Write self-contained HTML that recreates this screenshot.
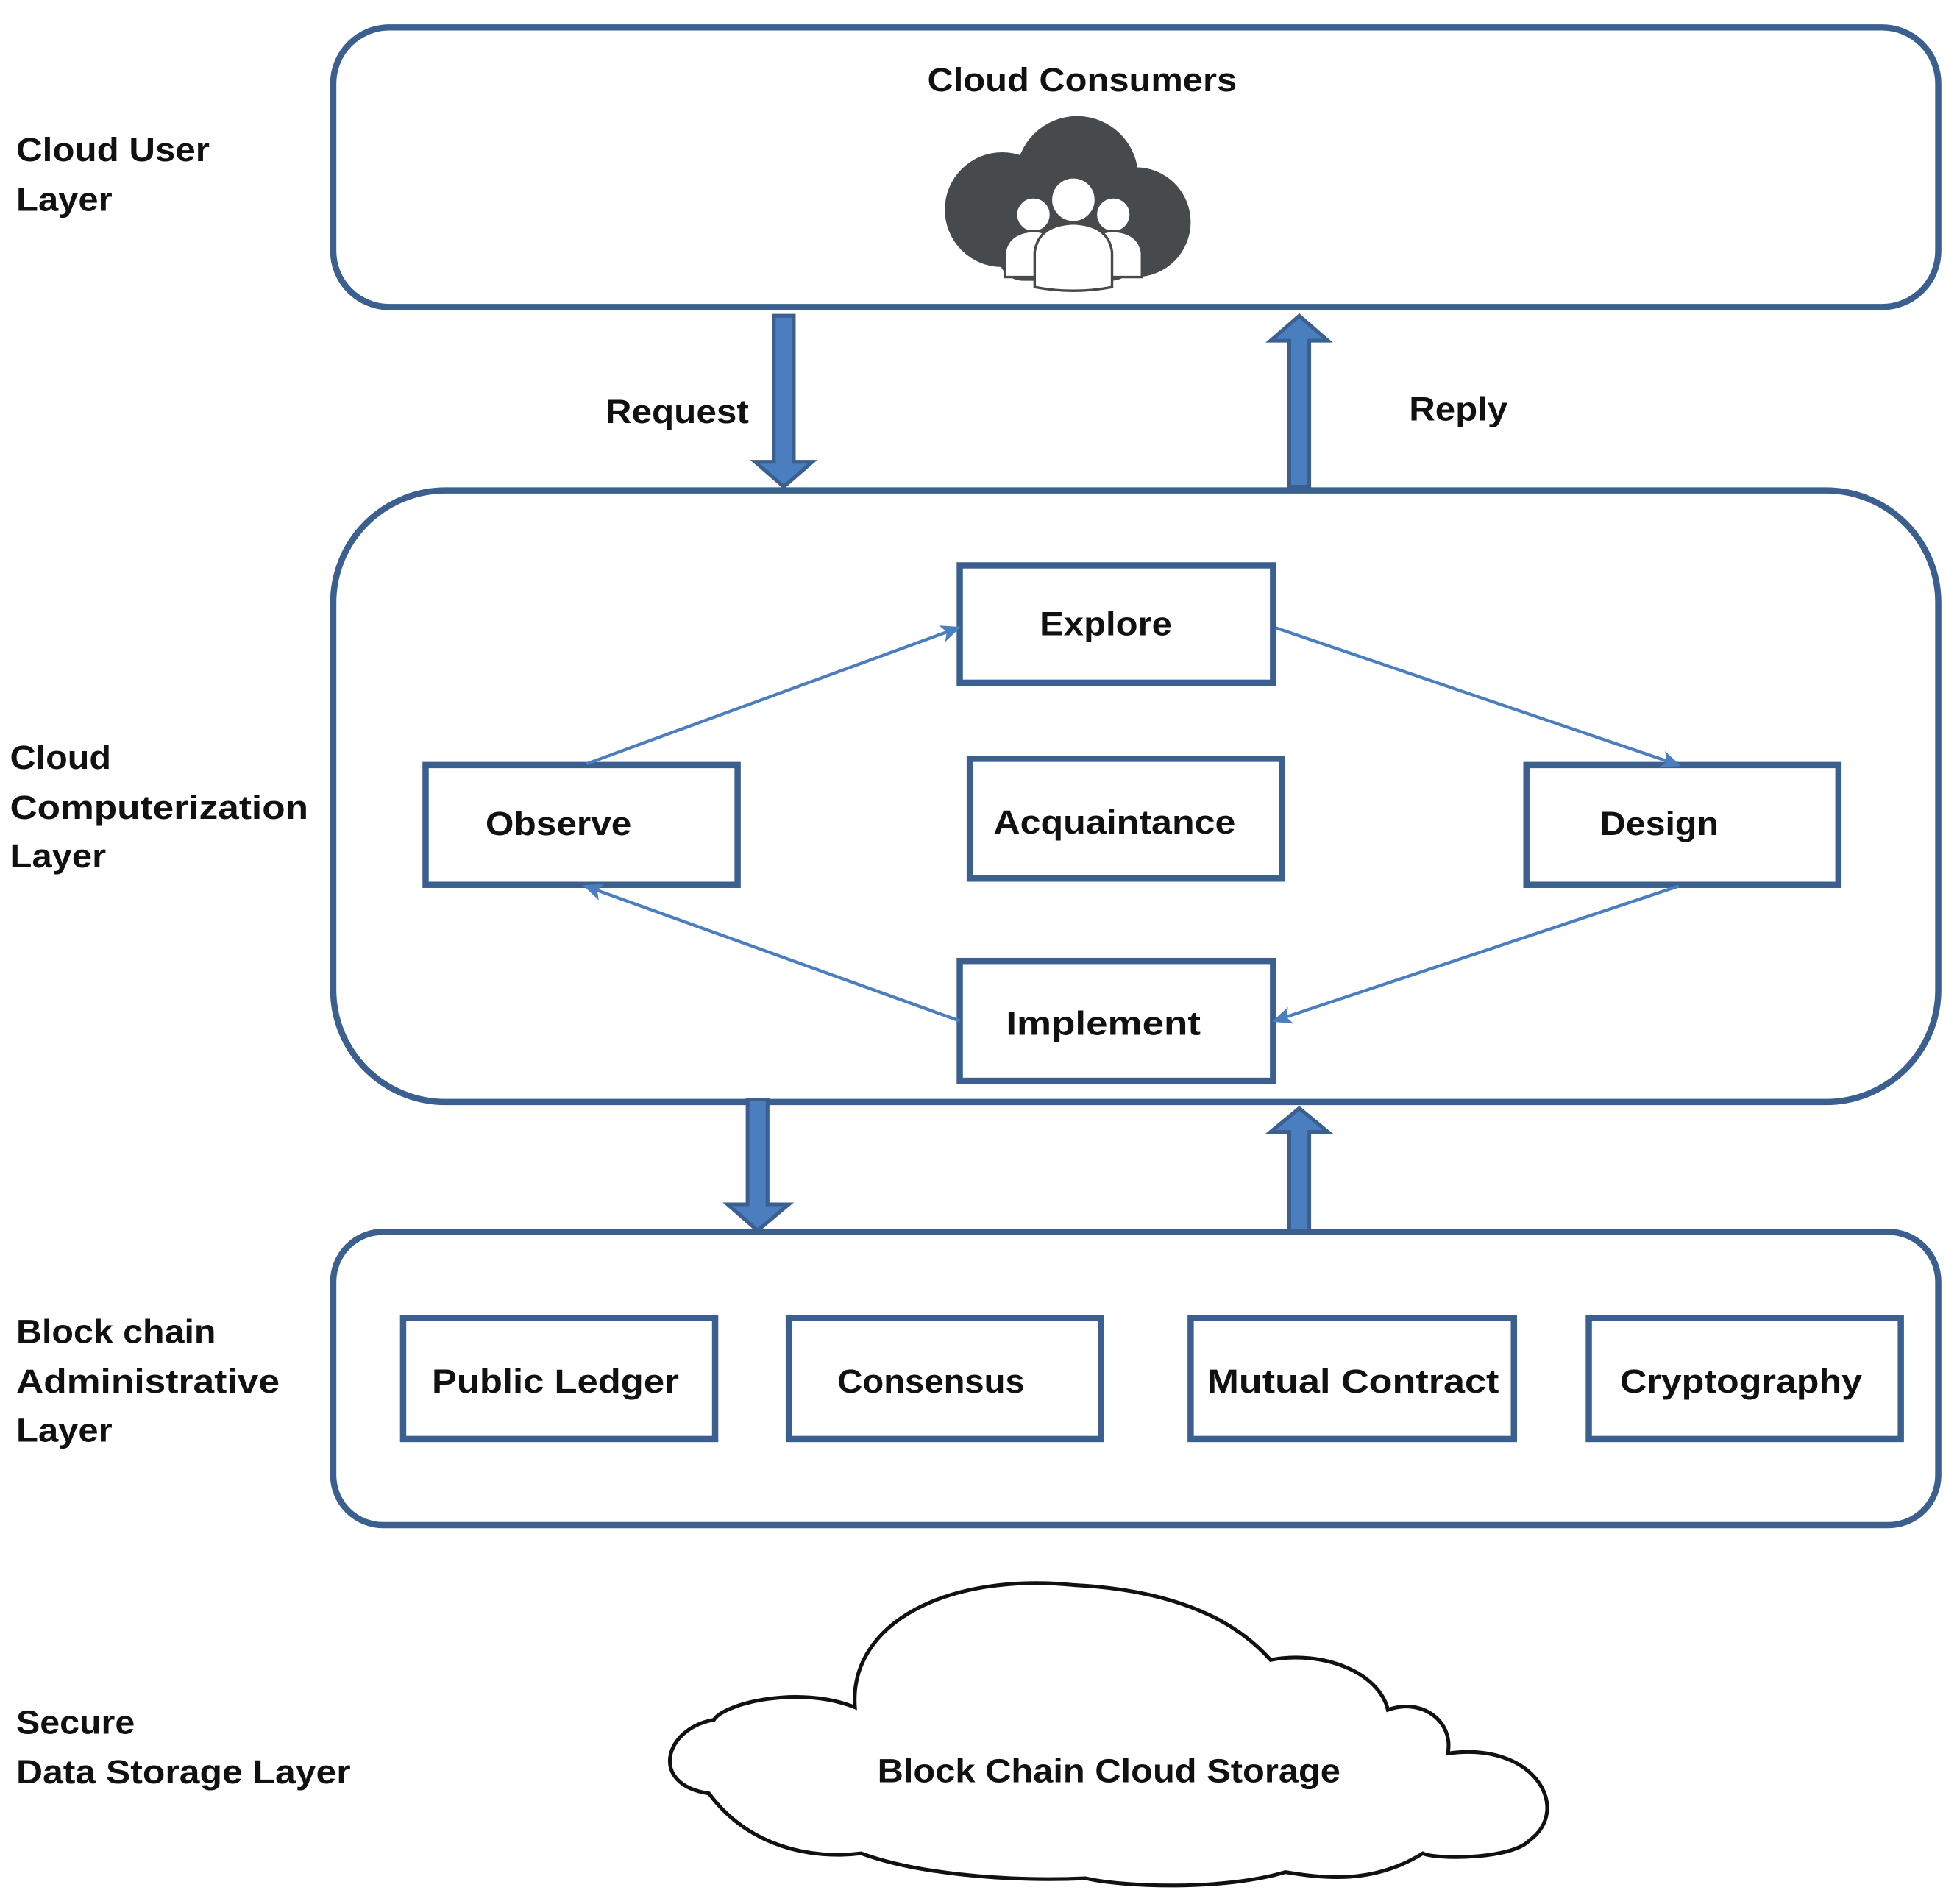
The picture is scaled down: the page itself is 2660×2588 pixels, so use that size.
<!DOCTYPE html>
<html><head><meta charset="utf-8"><style>html,body{margin:0;padding:0;background:#fff}svg{display:block}</style></head>
<body>
<svg width="2660" height="2588" viewBox="0 0 1568 1525.6" preserveAspectRatio="none" xmlns="http://www.w3.org/2000/svg">
<defs>
<marker id="ah" markerWidth="16" markerHeight="14" refX="14" refY="7" orient="auto" markerUnits="userSpaceOnUse">
<path d="M0,0 L16,7 L0,14 L4,7 z" fill="#4a7ebf"/>
</marker>
</defs>
<g fill="none" stroke="#3b5f8e" stroke-width="5">
<rect x="267" y="22" width="1286" height="224" rx="45"/>
<rect x="267" y="393" width="1286" height="490" rx="90"/>
<rect x="267" y="987" width="1286" height="235" rx="40"/>
<rect x="769" y="453" width="251" height="94"/>
<rect x="341" y="613" width="250" height="96"/>
<rect x="777" y="608" width="250" height="96"/>
<rect x="1223" y="613" width="250" height="96"/>
<rect x="769" y="770" width="251" height="96"/>
<rect x="323" y="1056" width="250" height="97"/>
<rect x="632" y="1056" width="250" height="97"/>
<rect x="954" y="1056" width="259" height="97"/>
<rect x="1273" y="1056" width="250" height="97"/>
</g>
<g stroke="#4a7ebf" stroke-width="2.5" fill="#4a7ebf">
<line x1="470" y1="612" x2="768" y2="503" marker-end="url(#ah)"/>
<line x1="1022" y1="503" x2="1345" y2="613" marker-end="url(#ah)"/>
<line x1="1345" y1="710" x2="1021" y2="818" marker-end="url(#ah)"/>
<line x1="769" y1="818" x2="469" y2="710" marker-end="url(#ah)"/>
</g>
<g fill="#4a7ebf" stroke="#3b5f8e" stroke-width="3">
<path d="M620,253 H636 V370 H651 L628,390 L605,370 H620 Z"/>
<path d="M1033,390 H1049 V273 H1064 L1041,253 L1018,273 H1033 Z"/>
<path d="M599,881 H615 V965 H632 L607,986 L583,965 H599 Z"/>
<path d="M1033,986 H1049 V907 H1064 L1041,888 L1018,907 H1033 Z"/>
</g>
<g fill="#464a4c">
<circle cx="863" cy="142" r="49"/>
<circle cx="803" cy="168" r="46"/>
<circle cx="910" cy="178" r="44"/>
<rect x="800" y="170" width="110" height="55" rx="20"/>
</g>
<g fill="#fff" stroke="#464a4c" stroke-width="2">
<circle cx="828" cy="172" r="14"/>
<circle cx="892" cy="172" r="14"/>
<path d="M805,222 V202 Q808,186 828,185 Q848,186 851,202 V222 Z"/>
<path d="M869,222 V202 Q872,186 892,185 Q912,186 915,202 V222 Z"/>
<circle cx="860" cy="160" r="18"/>
<path d="M829,230 V202 Q832,180 860,179 Q888,180 891,202 V230 Q860,236 829,230 Z"/>
</g>
<path d="M568,1437 C520,1430 532,1385 572,1378 C580,1365 640,1350 685,1368 C680,1300 760,1260 860,1270 C960,1275 1000,1310 1018,1330 C1060,1322 1105,1340 1112,1370 C1140,1360 1165,1380 1160,1405 C1230,1395 1260,1450 1225,1475 C1210,1490 1150,1490 1140,1485 C1100,1510 1060,1505 1030,1500 C980,1515 900,1512 870,1505 C800,1508 730,1500 690,1485 C650,1490 600,1480 568,1437 Z" fill="none" stroke="#111" stroke-width="3"/>
<g font-family="'Liberation Sans',sans-serif" font-weight="bold" font-size="27" fill="#111">
<text x="743" y="73" textLength="248" lengthAdjust="spacingAndGlyphs">Cloud Consumers</text>
<text x="485" y="339" textLength="115" lengthAdjust="spacingAndGlyphs">Request</text>
<text x="1129" y="337" textLength="79" lengthAdjust="spacingAndGlyphs">Reply</text>
<text x="833" y="509" textLength="106" lengthAdjust="spacingAndGlyphs">Explore</text>
<text x="389" y="669" textLength="117" lengthAdjust="spacingAndGlyphs">Observe</text>
<text x="796" y="668" textLength="194" lengthAdjust="spacingAndGlyphs">Acquaintance</text>
<text x="1282" y="669" textLength="95" lengthAdjust="spacingAndGlyphs">Design</text>
<text x="806" y="829" textLength="156" lengthAdjust="spacingAndGlyphs">Implement</text>
<text x="346" y="1116" textLength="198" lengthAdjust="spacingAndGlyphs">Public  Ledger</text>
<text x="671" y="1116" textLength="150" lengthAdjust="spacingAndGlyphs">Consensus</text>
<text x="967" y="1116" textLength="234" lengthAdjust="spacingAndGlyphs">Mutual Contract</text>
<text x="1298" y="1116" textLength="194" lengthAdjust="spacingAndGlyphs">Cryptography</text>
<text x="703" y="1428" textLength="371" lengthAdjust="spacingAndGlyphs">Block Chain Cloud Storage</text>
<text x="13" y="129" textLength="155" lengthAdjust="spacingAndGlyphs">Cloud User</text>
<text x="13" y="169" textLength="77" lengthAdjust="spacingAndGlyphs">Layer</text>
<text x="8" y="616" textLength="81" lengthAdjust="spacingAndGlyphs">Cloud</text>
<text x="8" y="656" textLength="239" lengthAdjust="spacingAndGlyphs">Computerization</text>
<text x="8" y="695" textLength="77" lengthAdjust="spacingAndGlyphs">Layer</text>
<text x="13" y="1076" textLength="160" lengthAdjust="spacingAndGlyphs">Block chain</text>
<text x="13" y="1116" textLength="211" lengthAdjust="spacingAndGlyphs">Administrative</text>
<text x="13" y="1155" textLength="77" lengthAdjust="spacingAndGlyphs">Layer</text>
<text x="13" y="1389" textLength="95" lengthAdjust="spacingAndGlyphs">Secure</text>
<text x="13" y="1429" textLength="268" lengthAdjust="spacingAndGlyphs">Data Storage Layer</text>
</g>
</svg>
</body></html>
